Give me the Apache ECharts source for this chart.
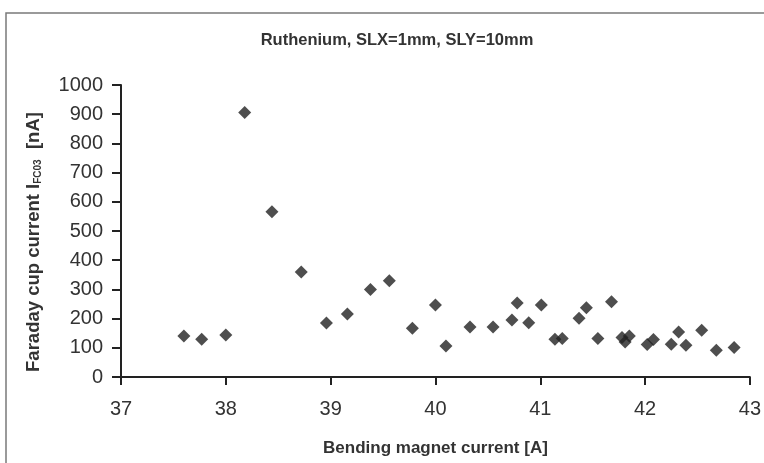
<!DOCTYPE html>
<html>
<head>
<meta charset="utf-8">
<script src="https://cdn.jsdelivr.net/npm/echarts@6/dist/echarts.min.js"></script>
<style>
  html, body { margin: 0; padding: 0; background: #fff; }
  #chart { width: 764px; height: 463px; }
</style>
</head>
<body>
<div id="chart"></div>
<script>
// Bending magnet current [A] for each scan step
const magnetCurrent = [37.60, 37.77, 38.00, 38.18, 38.44, 38.72, 38.96, 39.16, 39.38, 39.56,
  39.78, 40.00, 40.10, 40.33, 40.55, 40.73, 40.78, 40.89, 41.01, 41.14,
  41.21, 41.37, 41.44, 41.55, 41.68, 41.78, 41.81, 41.85, 42.02, 42.08,
  42.25, 42.32, 42.39, 42.54, 42.68, 42.85];
// Faraday cup FC03 current [nA]
const cupCurrent = [140, 129, 144, 906, 566, 360, 185, 216, 300, 330,
  167, 247, 106, 171, 171, 195, 253, 186, 247, 129,
  132, 201, 237, 132, 258, 135, 120, 140, 111, 128,
  112, 154, 109, 160, 92, 101];
const xTicks = [37, 38, 39, 40, 41, 42, 43];
const yTicks = [0, 100, 200, 300, 400, 500, 600, 700, 800, 900, 1000];

const points = magnetCurrent.map((x, i) => [x, cupCurrent[i]]);
const ink = '#222';
const font = '"Liberation Sans", Arial, sans-serif';
const narrow = '"Liberation Sans Narrow", "Arial Narrow", "Liberation Sans", sans-serif';

const chart = echarts.init(document.getElementById('chart'), null, { renderer: 'canvas' });
chart.setOption({
  animation: false,
  backgroundColor: '#fff',
  title: {
    text: 'Ruthenium, SLX=1mm, SLY=10mm',
    left: 392, top: 27, textAlign: 'center',
    textStyle: { fontFamily: narrow, fontSize: 16.5, fontWeight: 'bold', color: '#333' }
  },
  graphic: [
    {
      type: 'rect', z: -1,
      shape: { x: 6, y: 13, width: 800, height: 500 },
      style: { fill: 'none', stroke: '#7a7a7a', lineWidth: 1.5 }
    },
    {
      type: 'text',
      x: 34, y: 242, rotation: Math.PI / 2,
      style: {
        text: '{a|Faraday cup current I}{s|FC03}{a|  [nA]}',
        align: 'center', verticalAlign: 'middle',
        rich: {
          a: { fontFamily: narrow, fontSize: 18.5, fontWeight: 'bold', fill: '#333' },
          s: { fontFamily: narrow, fontSize: 10, fontWeight: 'bold', fill: '#333', verticalAlign: 'bottom', padding: [5, 0, 0, 0] }
        }
      }
    }
  ],
  grid: { left: 121, right: 13, top: 85, bottom: 86, containLabel: false },
  xAxis: {
    type: 'value',
    min: xTicks[0], max: xTicks[xTicks.length - 1], interval: 1,
    name: 'Bending magnet current [A]',
    nameLocation: 'middle', nameGap: 63,
    nameTextStyle: { fontFamily: narrow, fontSize: 17, fontWeight: 'bold', color: '#333' },
    axisLine: { onZero: false, lineStyle: { color: ink, width: 2 } },
    axisTick: { show: true, inside: false, length: 8, lineStyle: { color: ink, width: 2 } },
    axisLabel: { fontFamily: font, fontSize: 20, color: '#333', margin: 22 },
    splitLine: { show: false }
  },
  yAxis: {
    type: 'value',
    min: yTicks[0], max: yTicks[yTicks.length - 1], interval: 100,
    axisLine: { show: true, lineStyle: { color: ink, width: 2 } },
    axisTick: { show: true, inside: false, length: 9, lineStyle: { color: ink, width: 2 } },
    axisLabel: { fontFamily: font, fontSize: 20, color: '#333', margin: 18, formatter: v => String(v) },
    splitLine: { show: false }
  },
  series: [{
    type: 'scatter',
    data: points,
    symbol: 'diamond',
    symbolSize: 13,
    itemStyle: { color: ink }
  }]
});
</script>
</body>
</html>
